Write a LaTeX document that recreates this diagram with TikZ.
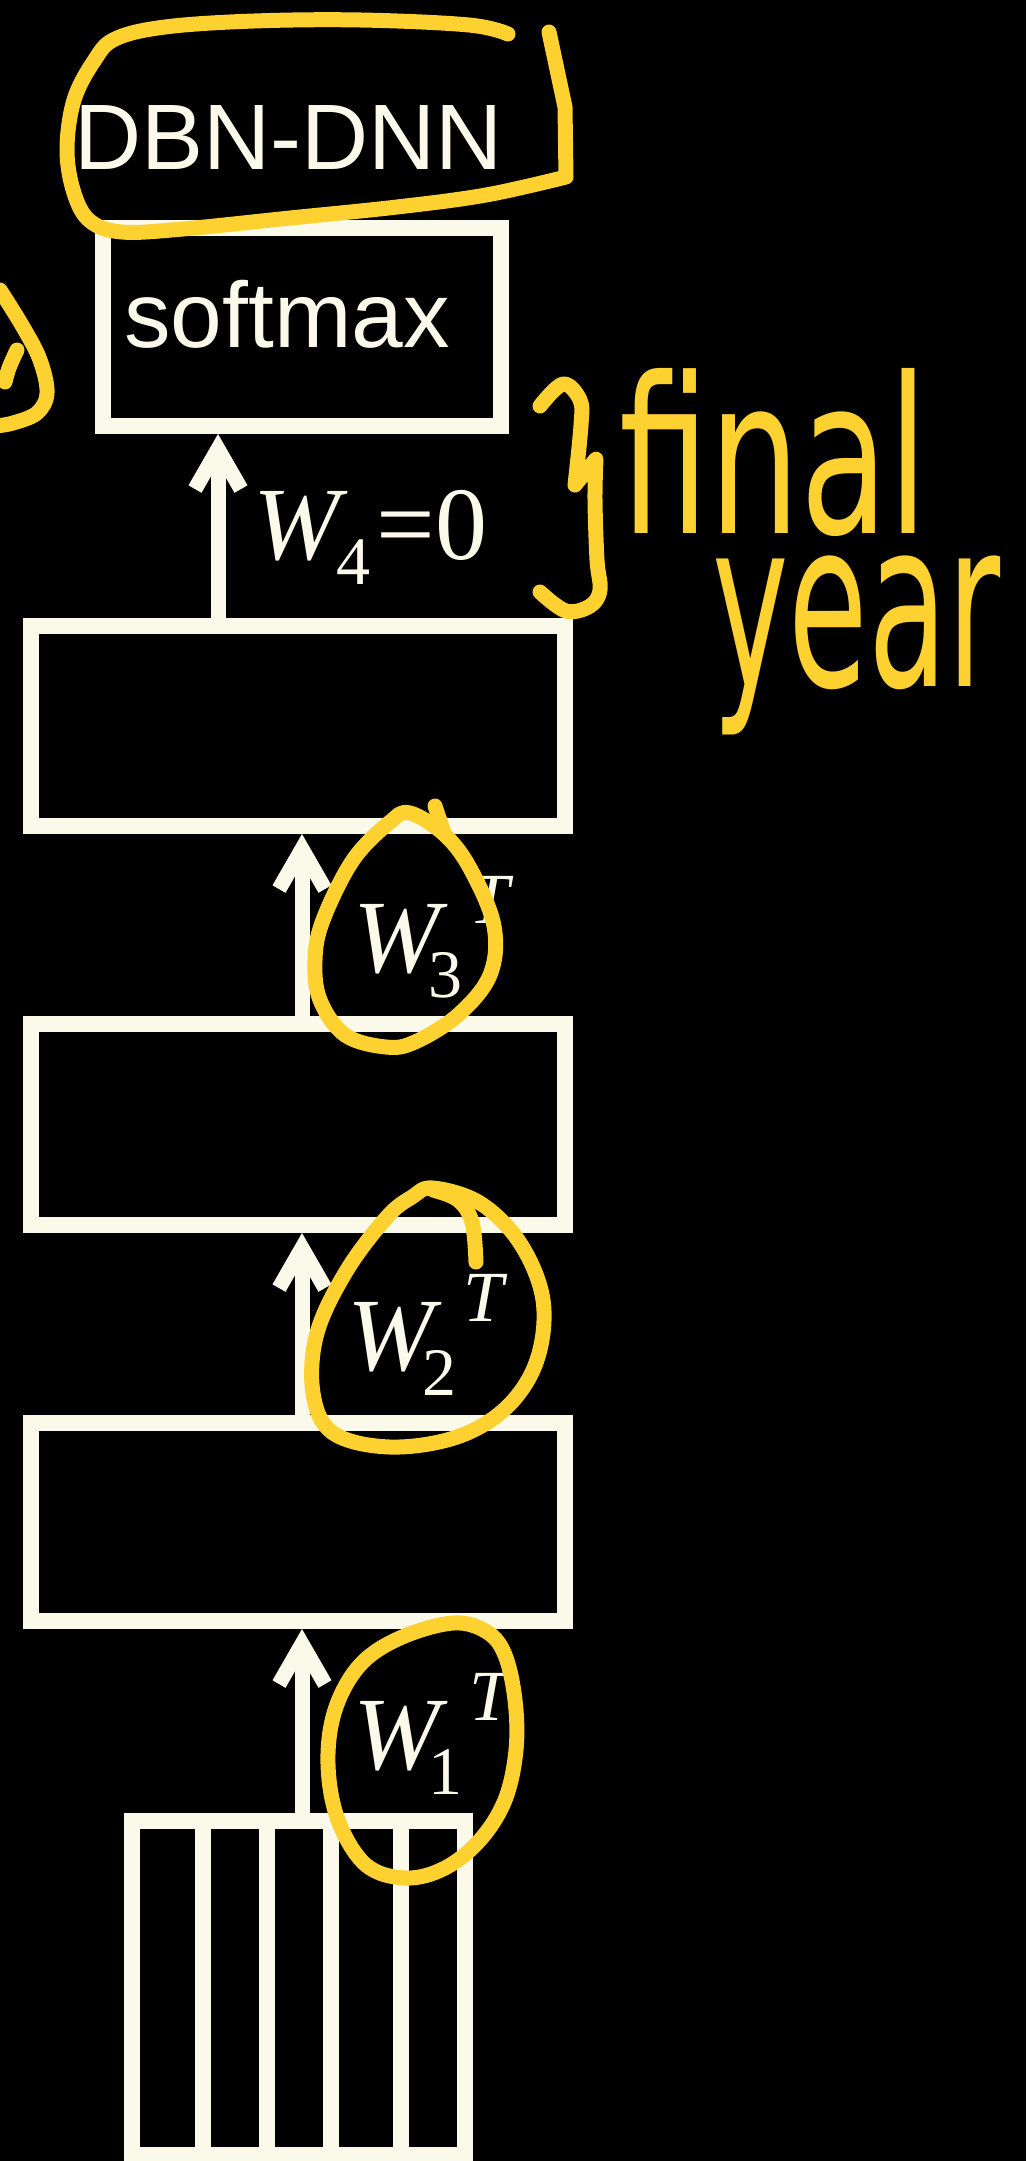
\documentclass[tikz,border=0pt]{standalone}
\usepackage{fontspec}
\usepackage{graphicx}
\setmainfont{Liberation Serif}
\newfontfamily\arialf{Liberation Sans}
\newfontfamily\timesf{Liberation Serif}
\newfontfamily\handf{DejaVu Sans}
\usetikzlibrary{arrows.meta}
\definecolor{cream}{RGB}{251,249,234}
\definecolor{hl}{RGB}{253,209,47}
\newcommand\mainW{{\fontsize{104pt}{110pt}\selectfont\timesf\itshape W}}
\newcommand\subd[1]{\raisebox{-25pt}{\fontsize{68pt}{70pt}\selectfont\timesf #1}}
\newcommand\supT{\raisebox{49pt}{\fontsize{72pt}{75pt}\selectfont\timesf\itshape T}}
\newcommand\WTlab[1]{\mainW\kern-12pt\subd{#1}\kern7pt\supT}
\begin{document}
\begin{tikzpicture}[x=1pt,y=-1pt,
  layerbox/.style={draw=cream, line width=16pt, inner sep=0pt, minimum width=534pt, minimum height=200pt},
  sansbig/.style={text=cream, inner sep=0pt, font=\arialf\fontsize{93pt}{100pt}\selectfont},
  wlab/.style={text=cream, inner sep=0pt, anchor=base west},
  arr/.style={draw=cream, line width=15pt, -{Straight Barb[length=40pt,width=46pt,sharp]}},
  divider/.style={draw=cream, line width=16pt},
  ann/.style={draw=hl, line width=15pt, line cap=round, line join=round},
  handtxt/.style={text=hl, inner sep=0pt}]
\path[use as bounding box, fill=black] (0,0) rectangle (1026,2161);

% boxes
\node[layerbox, minimum width=398pt, minimum height=198pt] (soft) at (302,327) {};
\node[layerbox] (box4) at (298,726) {};
\node[layerbox, minimum height=201pt] (box3) at (298,1124.5) {};
\node[layerbox, minimum height=198.3pt] (box2) at (298,1521.85) {};
\node[layerbox, minimum width=332.5pt, minimum height=334pt] (inp) at (298.25,1988) {};
\foreach \dx in {202.5,266.8,330.8,400.8}
  \draw[divider] (inp.north -| \dx,0) -- (inp.south -| \dx,0);

% texts
\node[sansbig, anchor=base west] (title) at (74,169) {DBN-DNN};
\node[sansbig, anchor=base west] (softtxt) at (124,347) {softmax};

% connectors
\coordinate (ax4) at (218,0);
\coordinate (ax) at (302,0);
\draw[arr] (box4.north -| ax4) -- (soft.south -| ax4);
\draw[arr] (box3.north -| ax) -- (box4.south -| ax);
\draw[arr] (box2.north -| ax) -- (box3.south -| ax);
\draw[arr] (inp.north -| ax) -- (box2.south -| ax);

% weight labels
\node[wlab] (w4) at (253.6,559) {\mainW\kern-4pt\subd{4}\kern6pt{\fontsize{104pt}{110pt}\selectfont\timesf =0}};
\node[wlab] (w3) at (353.6,972) {\WTlab{3}};
\node[wlab] (w2) at (347.6,1370) {\WTlab{2}};
\node[wlab] (w1) at (353.6,1769) {\WTlab{1}};

% yellow annotations
\draw[ann] plot[smooth, tension=0.6] coordinates {(508,34) (469,25) (361,20) (254,21) (165,27) (115,39) (94,61) (74,100) (67,150) (74,193) (90,221) (122,232) (183,229) (290,218) (397,207) (486,195) (566,177)}
  -- (565,107) -- (549,32);
\draw[ann] plot[smooth, tension=0.6] coordinates {(0,290) (23,327) (40,360) (47,393) (37,413) (13,423) (-5,426)};
\draw[ann] plot[smooth, tension=0.6] coordinates {(17,350) (9,368) (5,382)};
% brace
\draw[ann] plot[smooth, tension=0.6] coordinates {(540,406) (563,384) (580,400) (581,425) (575,485)}
  -- plot[smooth, tension=0.6] coordinates {(596,459) (595,500) (597,560) (600,590) (590,606) (566,611) (540,592)};
\node[handtxt, anchor=base west] (fin) at (619,533) {\resizebox{309pt}{165pt}{\handf final}};
\node[handtxt, anchor=north west] (yr) at (712,556) {\resizebox*{288pt}{179pt}{\handf year}};
% circles
\draw[ann] plot[smooth cycle, tension=0.6] coordinates {(410,813) (445,835) (471,870) (494,926) (490,975) (458,1015) (415,1042) (386,1047) (345,1035) (320,1000) (315,960) (323,920) (353,860) (390,822)};
\draw[ann] (435,806) -- (444,833);
\draw[ann] plot[smooth cycle, tension=0.6] coordinates {(433,1188) (480,1203) (520,1243) (543,1300) (537,1360) (507,1407) (457,1437) (390,1447) (333,1433) (313,1393) (317,1333) (347,1270) (387,1217) (412,1197)};
\draw[ann] plot[smooth, tension=0.6] coordinates {(433,1190) (458,1200) (472,1222) (476,1262)};
\draw[ann] plot[smooth cycle, tension=0.6] coordinates {(453,1623) (487,1632) (505,1655) (515,1700) (516,1750) (505,1800) (480,1840) (445,1868) (406,1878) (366,1865) (338,1820) (328,1764) (335,1710) (360,1665) (400,1638)};
\end{tikzpicture}
\end{document}
